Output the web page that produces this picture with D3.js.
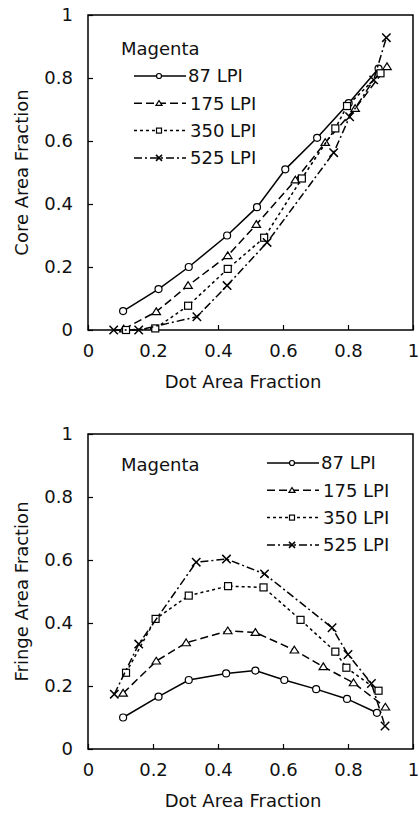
<!DOCTYPE html>
<html>
<head>
<meta charset="utf-8">
<script src="https://cdn.jsdelivr.net/npm/d3@7"></script>
<style>
  body { margin: 0; background: #fff; }
  text { font-family: "DejaVu Sans", sans-serif; fill: #111; }
</style>
</head>
<body>
<div id="chart"></div>
<script>
// series labels + tick labels
const seriesNames = ['87 LPI', '175 LPI', '350 LPI', '525 LPI'];
const xTicks = [0, 0.2, 0.4, 0.6, 0.8, 1];
const yTicks = [0, 0.2, 0.4, 0.6, 0.8, 1];

// top chart: dot area fraction -> core area fraction
const coreDot87 = [0.108, 0.217, 0.31, 0.428, 0.52, 0.607, 0.705, 0.802, 0.894];
const core87 = [0.06, 0.13, 0.20, 0.30, 0.39, 0.51, 0.61, 0.72, 0.83];
const coreDot175 = [0.11, 0.21, 0.308, 0.43, 0.518, 0.638, 0.73, 0.822, 0.92];
const core175 = [0.003, 0.058, 0.141, 0.236, 0.335, 0.476, 0.595, 0.703, 0.836];
const coreDot350 = [0.117, 0.207, 0.308, 0.43, 0.542, 0.658, 0.761, 0.797, 0.90];
const core350 = [0.0, 0.005, 0.077, 0.194, 0.293, 0.481, 0.64, 0.711, 0.815];
const coreDot525 = [0.079, 0.156, 0.335, 0.428, 0.551, 0.756, 0.805, 0.879, 0.918];
const core525 = [0.0, 0.0, 0.042, 0.141, 0.278, 0.563, 0.677, 0.794, 0.928];

// bottom chart: dot area fraction -> fringe area fraction
const fringeDot87 = [0.108, 0.217, 0.31, 0.425, 0.515, 0.604, 0.702, 0.797, 0.889];
const fringe87 = [0.10, 0.166, 0.219, 0.24, 0.249, 0.219, 0.19, 0.159, 0.115];
const fringeDot175 = [0.108, 0.21, 0.302, 0.43, 0.515, 0.635, 0.724, 0.817, 0.915];
const fringe175 = [0.177, 0.279, 0.337, 0.375, 0.37, 0.314, 0.261, 0.21, 0.133];
const fringeDot350 = [0.117, 0.208, 0.31, 0.431, 0.54, 0.654, 0.761, 0.795, 0.894];
const fringe350 = [0.242, 0.413, 0.487, 0.517, 0.513, 0.41, 0.309, 0.258, 0.185];
const fringeDot525 = [0.081, 0.156, 0.333, 0.426, 0.543, 0.751, 0.80, 0.872, 0.914];
const fringe525 = [0.174, 0.333, 0.593, 0.603, 0.556, 0.385, 0.30, 0.208, 0.073];

const W = 419, H = 825;
const svg = d3.select('#chart').append('svg')
  .attr('width', W).attr('height', H);

const dashes = ['none', '8,4', '3,3', '8,3,2,3'];
const markers = ['circle', 'triangle', 'square', 'cross'];

const zip = (xs, ys) => xs.map((x, i) => ({ x, y: ys[i] }));

const drawMarker = (g, type, x, y, s) => {
  if (type === 'circle') {
    g.append('circle').attr('cx', x).attr('cy', y).attr('r', s * 0.5)
      .attr('fill', '#fff').attr('stroke', '#000').attr('stroke-width', 1.2);
  } else if (type === 'triangle') {
    const h = s * 0.55;
    g.append('path')
      .attr('d', `M${x},${y - h}L${x + h * 1.1},${y + h * 0.75}L${x - h * 1.1},${y + h * 0.75}Z`)
      .attr('fill', '#fff').attr('stroke', '#000').attr('stroke-width', 1.2);
  } else if (type === 'square') {
    g.append('rect').attr('x', x - s / 2).attr('y', y - s / 2)
      .attr('width', s).attr('height', s)
      .attr('fill', '#fff').attr('stroke', '#000').attr('stroke-width', 1.2);
  } else {
    const h = s * 0.6;
    g.append('path')
      .attr('d', `M${x - h},${y - h}L${x + h},${y + h}M${x - h},${y + h}L${x + h},${y - h}`)
      .attr('stroke', '#000').attr('stroke-width', 1.5);
  }
};

const panel = (opts) => {
  const { top, bottom, series, yTitle, legendX, legendY, magX, magY } = opts;
  const x = d3.scaleLinear().domain([0, 1]).range([88, 413]);
  const y = d3.scaleLinear().domain([0, 1]).range([bottom, top]);
  const g = svg.append('g');

  // frame
  g.append('rect').attr('x', x(0)).attr('y', y(1))
    .attr('width', x(1) - x(0)).attr('height', y(0) - y(1))
    .attr('fill', 'none').attr('stroke', '#000').attr('stroke-width', 1.5);

  const xAxis = g.append('g').attr('transform', `translate(0,${y(0)})`)
    .call(d3.axisBottom(x).tickValues(xTicks).tickSizeInner(-5).tickSizeOuter(0)
      .tickPadding(11).tickFormat(d3.format('~g')));
  xAxis.select('.domain').remove();
  xAxis.selectAll('line').attr('stroke', '#000').attr('stroke-width', 1.2);
  xAxis.selectAll('text').style('font-size', '18px')
    .attr('font-family', null).attr('dy', '0.9em');

  const yAxis = g.append('g').attr('transform', `translate(${x(0)},0)`)
    .call(d3.axisLeft(y).tickValues(yTicks).tickSizeInner(-5).tickSizeOuter(0)
      .tickPadding(15).tickFormat(d3.format('~g')));
  yAxis.select('.domain').remove();
  yAxis.selectAll('line').attr('stroke', '#000').attr('stroke-width', 1.2);
  yAxis.selectAll('text').style('font-size', '18px').attr('font-family', null);

  g.append('text').attr('x', 243).attr('y', y(0) + 58)
    .attr('text-anchor', 'middle').style('font-size', '18px')
    .text('Dot Area Fraction');
  g.append('text')
    .attr('transform', `translate(22,${(y(0) + y(1)) / 2}) rotate(-90)`)
    .attr('text-anchor', 'middle').attr('dy', '0.35em').style('font-size', '18px')
    .text(yTitle);

  const line = d3.line().x(d => x(d.x)).y(d => y(d.y));
  series.forEach((s, i) => {
    g.append('path').datum(s)
      .attr('d', line).attr('fill', 'none').attr('stroke', '#000')
      .attr('stroke-width', 1.5).attr('stroke-dasharray', dashes[i]);
    s.forEach(d => drawMarker(g, markers[i], x(d.x), y(d.y), 7));
  });

  // legend
  g.append('text').attr('x', magX).attr('y', magY).attr('dy', '0.35em')
    .style('font-size', '18px').text('Magenta');
  seriesNames.forEach((name, i) => {
    const ly = legendY + i * 27.3;
    g.append('line').attr('x1', legendX).attr('x2', legendX + 52)
      .attr('y1', ly).attr('y2', ly).attr('stroke', '#000')
      .attr('stroke-width', 1.5).attr('stroke-dasharray', dashes[i]);
    drawMarker(g, markers[i], legendX + 25, ly, 5);
    g.append('text').attr('x', legendX + 54 + (i === 0 ? 0 : 2)).attr('y', ly)
      .attr('dy', '0.35em').style('font-size', '18px').text(name);
  });
};

panel({
  top: 15, bottom: 330, yTitle: 'Core Area Fraction',
  series: [zip(coreDot87, core87), zip(coreDot175, core175),
    zip(coreDot350, core350), zip(coreDot525, core525)],
  legendX: 134, legendY: 76, magX: 121, magY: 49
});

panel({
  top: 434, bottom: 749, yTitle: 'Fringe Area Fraction',
  series: [zip(fringeDot87, fringe87), zip(fringeDot175, fringe175),
    zip(fringeDot350, fringe350), zip(fringeDot525, fringe525)],
  legendX: 267, legendY: 463, magX: 121, magY: 465
});
</script>
</body>
</html>
